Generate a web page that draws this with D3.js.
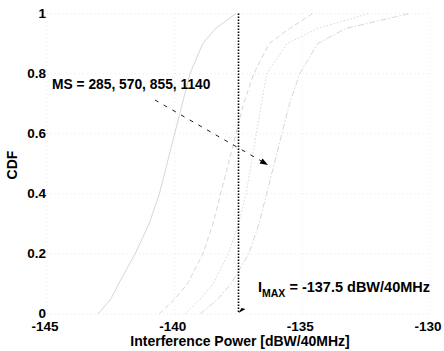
<!DOCTYPE html>
<html>
<head>
<meta charset="utf-8">
<script src="https://cdn.jsdelivr.net/npm/d3@7/dist/d3.min.js"></script>
<style>
  html, body { margin: 0; padding: 0; background: #fff; }
  svg { display: block; }
  text { font-family: "Liberation Sans", Arial, Helvetica, sans-serif; font-weight: bold; fill: #000; }
</style>
</head>
<body>
<svg id="chart" width="444" height="351"></svg>
<script>
// CDF levels shared by all curves
const cdfLevels = [0, 0.05, 0.1, 0.2, 0.3, 0.4, 0.5, 0.6, 0.7, 0.8, 0.9, 0.95, 1];
// Interference power (dBW/40MHz) reached at each CDF level, one array per MS count
const ms285  = [-143.0, -142.5, -142.2, -141.55, -141.0, -140.6, -140.3, -140.0, -139.7, -139.4, -138.9, -138.4, -137.6];
const ms570  = [-140.6, -140.0, -139.5, -138.9, -138.5, -138.2, -137.9, -137.6, -137.3, -136.9, -136.3, -135.5, -134.6];
const ms855  = [-139.6, -139.0, -138.5, -137.9, -137.5, -137.2, -137.0, -136.8, -136.6, -136.4, -135.6, -134.4, -132.4];
const ms1140 = [-139.0, -138.3, -137.8, -137.1, -136.7, -136.4, -136.1, -135.8, -135.5, -135.1, -134.4, -133.3, -130.8];
const seriesNames = ["285", "570", "855", "1140"];
const seriesValues = [ms285, ms570, ms855, ms1140];
const seriesDash = [null, "5,3", "1.5,2", "6,2,1.5,2"];

const xTicks = [-145, -140, -135, -130];
const yTicks = [0, 0.2, 0.4, 0.6, 0.8, 1];
const iMax = -137.5;

const svg = d3.select("#chart");
const x = d3.scaleLinear().domain([-145, -130]).range([47, 430]);
const y = d3.scaleLinear().domain([0, 1]).range([314, 13.5]);

// faint dotted grid
const grid = svg.append("g").attr("stroke", "#e6e6e6").attr("stroke-width", 0.8).attr("stroke-dasharray", "1,3");
grid.selectAll("line.v").data(xTicks).join("line")
  .attr("x1", d => x(d)).attr("x2", d => x(d)).attr("y1", y(0)).attr("y2", y(1));
grid.selectAll("line.h").data(yTicks).join("line")
  .attr("x1", x(-145)).attr("x2", x(-130)).attr("y1", d => y(d)).attr("y2", d => y(d));

// y tick labels
svg.append("g").selectAll("text").data(yTicks).join("text")
  .attr("x", 46).attr("y", d => y(d)).attr("dy", "0.3em")
  .attr("text-anchor", "end").attr("font-size", "13.5px")
  .text(d => d3.format("")(d));

// x tick labels
svg.append("g").selectAll("text").data(xTicks).join("text")
  .attr("x", d => x(d) - 2).attr("y", 331)
  .attr("text-anchor", "middle").attr("font-size", "13.5px")
  .text(d => d);

// CDF curves
const line = d3.line().x(d => x(d[0])).y(d => y(d[1]));
svg.append("g").selectAll("path").data(seriesValues).join("path")
  .attr("d", vals => line(vals.map((v, i) => [v, cdfLevels[i]])))
  .attr("fill", "none").attr("stroke", "#c4c4c4").attr("stroke-width", 0.7)
  .attr("stroke-dasharray", (d, i) => seriesDash[i]);

// I_MAX threshold line
svg.append("line")
  .attr("x1", x(iMax)).attr("x2", x(iMax)).attr("y1", y(1)).attr("y2", y(0) - 2)
  .attr("stroke", "#000").attr("stroke-width", 1.6).attr("stroke-dasharray", "1.4,1.6");
const tx = x(iMax), ty = y(0) - 1;
svg.append("path")
  .attr("d", `M${tx},${ty} L${tx + 7},${ty - 4} L${tx + 3},${ty - 5} Z`)
  .attr("fill", "#000");

// arrow showing the direction of increasing MS
const ax1 = 155, ay1 = 100, ax2 = 268, ay2 = 165;
svg.append("line")
  .attr("x1", ax1).attr("y1", ay1).attr("x2", ax2 - 5).attr("y2", ay2 - 3)
  .attr("stroke", "#000").attr("stroke-width", 0.9).attr("stroke-dasharray", "4,6");
const ang = Math.atan2(ay2 - ay1, ax2 - ax1);
const hl = 8, hw = 3;
const bx = ax2 - hl * Math.cos(ang), by = ay2 - hl * Math.sin(ang);
svg.append("path")
  .attr("d", `M${ax2},${ay2} L${bx - hw * Math.sin(ang)},${by + hw * Math.cos(ang)} L${bx + hw * Math.sin(ang)},${by - hw * Math.cos(ang)} Z`)
  .attr("fill", "#000");

// annotations
svg.append("text").attr("x", 52).attr("y", 89).attr("font-size", "13.8px")
  .text("MS = " + seriesNames.join(", "));

const imaxLabel = svg.append("text").attr("x", 258).attr("y", 292).attr("font-size", "14.5px");
imaxLabel.append("tspan").text("I");
imaxLabel.append("tspan").attr("dy", 5).attr("font-size", "10.5px").text("MAX");
imaxLabel.append("tspan").attr("dy", -5).text(" = " + iMax + " dBW/40MHz");

// axis titles
svg.append("text").attr("x", 240).attr("y", 346).attr("text-anchor", "middle")
  .attr("font-size", "14px").text("Interference Power [dBW/40MHz]");
svg.append("text").attr("transform", "translate(17,165) rotate(-90)")
  .attr("text-anchor", "middle").attr("font-size", "14px").text("CDF");
</script>
</body>
</html>
